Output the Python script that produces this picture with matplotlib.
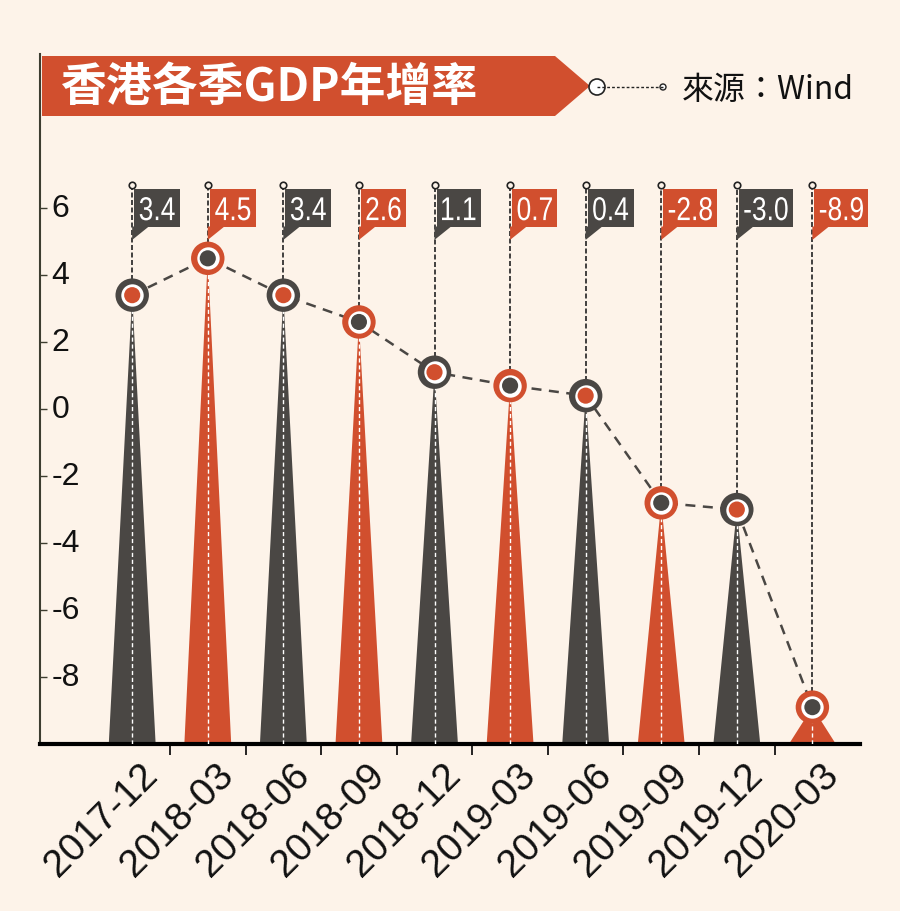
import numpy as np
import matplotlib
matplotlib.use('Agg')
import matplotlib.pyplot as plt
from matplotlib.patches import Polygon, Circle, Rectangle, PathPatch
from matplotlib.textpath import TextPath
from matplotlib.font_manager import FontProperties
from matplotlib.transforms import Affine2D

# data
quarters = ['2017-12', '2018-03', '2018-06', '2018-09', '2018-12',
            '2019-03', '2019-06', '2019-09', '2019-12', '2020-03']
growth = [3.4, 4.5, 3.4, 2.6, 1.1, 0.7, 0.4, -2.8, -3.0, -8.9]
value_labels = ['3.4', '4.5', '3.4', '2.6', '1.1', '0.7', '0.4', '-2.8', '-3.0', '-8.9']
yticks = [6, 4, 2, 0, -2, -4, -6, -8]

title = '香港各季GDP年增率'
source = '來源：Wind'

# colours
bg = '#fdf3e9'
dark = '#4a4744'
red = '#d14f2e'

W, H = 900, 912
fig = plt.figure(figsize=(W / 100, H / 100), dpi=100, facecolor=bg)
ax = fig.add_axes([40 / W, 1 - 745 / H, 820 / W, 690 / H])
ax.set_facecolor(bg)
ymin, ymax = -10, 10.6
ax.set_ylim(ymin, ymax)
ax.set_xlim(-1.22, 9.63)

# overlay in pixel units (y downwards) for banner and narrow labels
ov = fig.add_axes([0, 0, 1, 1], facecolor='none', zorder=5)
ov.set_xlim(0, W)
ov.set_ylim(H, 0)
ov.axis('off')

x = np.arange(len(growth))
cols = [dark if i % 2 == 0 else red for i in range(len(growth))]
other = [red if i % 2 == 0 else dark for i in range(len(growth))]
half_w = 0.31

# triangles
for i, v in enumerate(growth):
    tri = Polygon([(i - half_w, ymin), (i + half_w, ymin), (i, v)], closed=True,
                  facecolor=cols[i], edgecolor='none', zorder=2)
    ax.add_patch(tri)
    # white dashes inside
    ax.plot([i, i], [ymin, v], color='white', lw=1, ls=(0, (3, 2)), zorder=3)

# connecting dashed line
ax.plot(x, growth, color=dark, lw=1.8, ls=(0, (4, 3)), zorder=4)

# label stems, boxes (condensed digits drawn as paths)
top_y = 6.69
box_y = 6.0
fp = FontProperties(family='Liberation Sans')
for i, v in enumerate(growth):
    ax.plot([i, i], [v, top_y], color='#222222', lw=1.2, ls=(0, (3, 1.5)), zorder=3)
    ax.scatter([i], [top_y], s=22, facecolor=bg, edgecolor='#222222', linewidth=1.2, zorder=5)
    tail = Polygon([(i, 5.45), (i + 0.22, 5.45), (i, 5.05)], closed=True,
                   facecolor=cols[i], edgecolor='none', zorder=5)
    ax.add_patch(tail)

    px, py = ax.transData.transform((i, box_y))
    yc = H - py
    tp = TextPath((0, 0), value_labels[i], size=33, prop=fp)
    bb = tp.get_extents()
    sx = 0.8
    tw = bb.width * sx
    left = px + 2
    ov.add_patch(Rectangle((left, yc - 19), tw + 11, 38, facecolor=cols[i], edgecolor='none'))
    tr = Affine2D().translate(-bb.x0, 0).scale(sx, -1).translate(left + 5.5, yc + 12) + ov.transData
    ov.add_patch(PathPatch(tp, transform=tr, facecolor='white', edgecolor='none'))

# markers
ax.scatter(x, growth, s=580, c=cols, zorder=6, linewidths=0)
ax.scatter(x, growth, s=260, c='white', zorder=7, linewidths=0)
ax.scatter(x, growth, s=135, c=other, zorder=8, linewidths=0)

# axes styling
for s in ['top', 'right']:
    ax.spines[s].set_visible(False)
ax.spines['left'].set_color('#3d3d30')
ax.spines['left'].set_linewidth(1.5)
ax.spines['bottom'].set_color('black')
ax.spines['bottom'].set_linewidth(3)
ax.set_xticks(x[:-1] + 0.5)
ax.set_xticklabels([])
ax.tick_params(axis='x', length=8, width=1.2, color='black', direction='out')
ax.set_yticks(yticks)
ax.set_yticklabels([])
ax.tick_params(axis='y', length=5, width=1, direction='in', color='#3d3d30')
for t in yticks:
    ax.text(0.014, t, str(t), transform=ax.get_yaxis_transform(),
            fontsize=23, family='Liberation Sans', ha='left', va='center', color='#111111')

for i, q in enumerate(quarters):
    ax.text(i + 0.1, -10.35, q, rotation=45, rotation_mode='anchor', ha='right', va='top',
            fontsize=28, family='Liberation Sans', color='#111111')

# title banner and source
ov.add_patch(Polygon([(42, 57), (555, 57), (590, 87), (555, 117), (42, 117)],
                     closed=True, facecolor=red, edgecolor='none'))
ov.text(60, 88, title, color='white', fontsize=33, fontweight='bold',
        family=['Noto Sans CJK TC', 'DejaVu Sans'], ha='left', va='center')
ov.plot([597, 663], [88, 88], color='#222222', lw=1, ls=(0, (2, 1.5)))
ov.add_patch(Circle((597, 88), 8, facecolor='white', edgecolor='#222222', lw=1.2))
ov.add_patch(Circle((663, 88), 3, facecolor='white', edgecolor='#222222', lw=1))
ov.text(682, 90, source, color='#111111', fontsize=23,
        family=['Noto Sans CJK TC', 'DejaVu Sans'], ha='left', va='center')

fig.savefig('out.png', dpi=100, facecolor=bg)
